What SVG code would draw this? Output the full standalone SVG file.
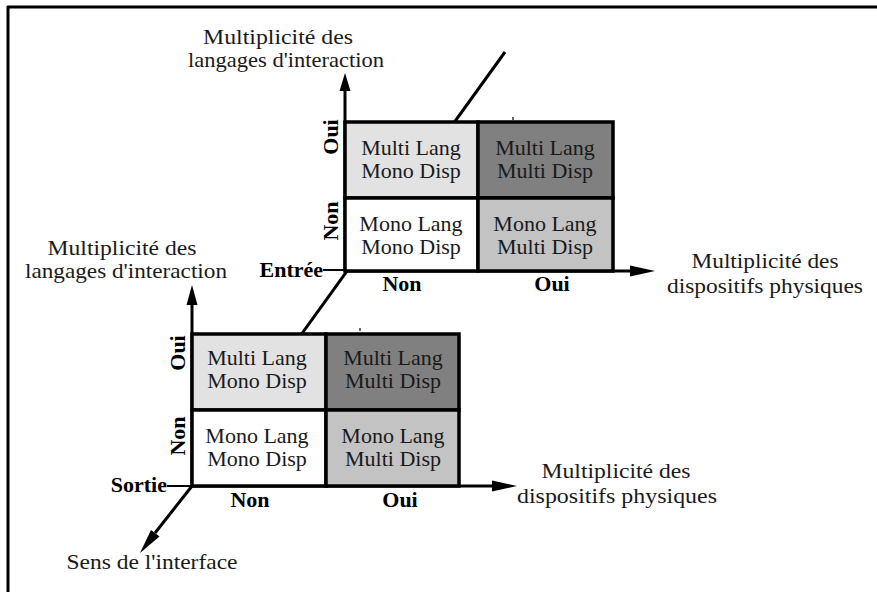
<svg xmlns="http://www.w3.org/2000/svg" width="877" height="592" viewBox="0 0 877 592">
<style>
  text { font-family: "Liberation Serif", "Times New Roman", serif; fill: #1a1a1a; }
  .lbl { font-size: 21px; text-anchor: middle; }
  .cell { font-size: 22px; text-anchor: middle; }
  .b { font-size: 22px; font-weight: bold; fill: #000; }
  .ax { stroke: #000; stroke-width: 3; fill: none; }
  .tick { stroke: #000; stroke-width: 2; fill: none; }
  .head { fill: #000; stroke: none; }
  .box { stroke: #000; stroke-width: 3.5; }
  .c1 { fill: #e2e2e2; }
  .c2 { fill: #808080; }
  .c3 { fill: #c3c3c3; }
  .c0 { fill: #ffffff; }
</style>
<rect x="0" y="0" width="877" height="592" fill="#fff"/>
<g id="frame">
  <line x1="7" y1="7" x2="877" y2="7" stroke="#000" stroke-width="3"/>
  <line x1="8" y1="6" x2="8" y2="592" stroke="#000" stroke-width="3"/>
</g>
<g id="connectors">
  <line class="ax" x1="192" y1="486" x2="505" y2="52"/>
  <line class="ax" x1="192" y1="486" x2="155" y2="533"/>
  <polygon class="head" points="140,553 159.5,536.5 151,530"/>
  <line class="ax" x1="345" y1="271" x2="345" y2="90"/>
  <polygon class="head" points="345,73 339.5,91 350.5,91"/>
  <line class="ax" x1="345" y1="271" x2="632" y2="271"/>
  <polygon class="head" points="655,271 630,265.5 630,276.5"/>
  <line class="ax" x1="192" y1="486" x2="192" y2="305"/>
  <polygon class="head" points="192,285 186.5,305 197.5,305"/>
  <line class="ax" x1="192" y1="486" x2="495" y2="486"/>
  <polygon class="head" points="517,486 492,480.5 492,491.5"/>
  <line class="tick" x1="323" y1="270" x2="345" y2="270"/>
  <line class="tick" x1="167" y1="486" x2="192" y2="486"/>
</g>
<g id="upper-grid">
  <g id="u-multi-mono">
    <rect class="box c1" x="345" y="122" width="133" height="76"/>
    <text class="cell" x="411" y="155">Multi Lang</text>
    <text class="cell" x="411" y="178">Mono Disp</text>
  </g>
  <g id="u-multi-multi">
    <rect class="box c2" x="478" y="122" width="135" height="76"/>
    <text class="cell" x="545" y="155">Multi Lang</text>
    <text class="cell" x="545" y="178">Multi Disp</text>
  </g>
  <g id="u-mono-mono">
    <rect class="box c0" x="345" y="198" width="133" height="73"/>
    <text class="cell" x="411" y="231">Mono Lang</text>
    <text class="cell" x="411" y="254">Mono Disp</text>
  </g>
  <g id="u-mono-multi">
    <rect class="box c3" x="478" y="198" width="135" height="73"/>
    <text class="cell" x="545" y="231">Mono Lang</text>
    <text class="cell" x="545" y="254">Multi Disp</text>
  </g>
  <rect x="512" y="117" width="2" height="3" fill="#666"/>
</g>
<g id="lower-grid">
  <g id="l-multi-mono">
    <rect class="box c1" x="192" y="334" width="134" height="76"/>
    <text class="cell" x="257" y="365">Multi Lang</text>
    <text class="cell" x="257" y="388">Mono Disp</text>
  </g>
  <g id="l-multi-multi">
    <rect class="box c2" x="326" y="334" width="133" height="76"/>
    <text class="cell" x="393" y="365">Multi Lang</text>
    <text class="cell" x="393" y="388">Multi Disp</text>
  </g>
  <g id="l-mono-mono">
    <rect class="box c0" x="192" y="410" width="134" height="76"/>
    <text class="cell" x="257" y="443">Mono Lang</text>
    <text class="cell" x="257" y="466">Mono Disp</text>
  </g>
  <g id="l-mono-multi">
    <rect class="box c3" x="326" y="410" width="133" height="76"/>
    <text class="cell" x="393" y="443">Mono Lang</text>
    <text class="cell" x="393" y="466">Multi Disp</text>
  </g>
  <rect x="359" y="328" width="2" height="3" fill="#666"/>
</g>
<g id="labels">
  <text class="lbl" x="278" y="44" textLength="150" lengthAdjust="spacingAndGlyphs">Multiplicité des</text>
  <text class="lbl" x="286" y="67" textLength="196" lengthAdjust="spacingAndGlyphs">langages d'interaction</text>
  <text class="lbl" x="122" y="255" textLength="149" lengthAdjust="spacingAndGlyphs">Multiplicité des</text>
  <text class="lbl" x="126" y="278" textLength="202" lengthAdjust="spacingAndGlyphs">langages d'interaction</text>
  <text class="lbl" x="765" y="268" textLength="147" lengthAdjust="spacingAndGlyphs">Multiplicité des</text>
  <text class="lbl" x="765" y="293" textLength="196" lengthAdjust="spacingAndGlyphs">dispositifs physiques</text>
  <text class="lbl" x="616" y="478" textLength="149" lengthAdjust="spacingAndGlyphs">Multiplicité des</text>
  <text class="lbl" x="617" y="503" textLength="200" lengthAdjust="spacingAndGlyphs">dispositifs physiques</text>
  <text class="lbl" x="152" y="569" textLength="171" lengthAdjust="spacingAndGlyphs">Sens de l'interface</text>
  <text class="b" x="323" y="277" text-anchor="end">Entrée</text>
  <text class="b" x="167" y="492" text-anchor="end">Sortie</text>
  <text class="b" x="402" y="291" text-anchor="middle">Non</text>
  <text class="b" x="552" y="291" text-anchor="middle">Oui</text>
  <text class="b" x="250" y="507" text-anchor="middle">Non</text>
  <text class="b" x="400" y="507" text-anchor="middle">Oui</text>
  <text class="b" transform="translate(338,137) rotate(-90)" text-anchor="middle">Oui</text>
  <text class="b" transform="translate(338,221) rotate(-90)" text-anchor="middle">Non</text>
  <text class="b" transform="translate(185,353) rotate(-90)" text-anchor="middle">Oui</text>
  <text class="b" transform="translate(185,436) rotate(-90)" text-anchor="middle">Non</text>
</g>
</svg>
